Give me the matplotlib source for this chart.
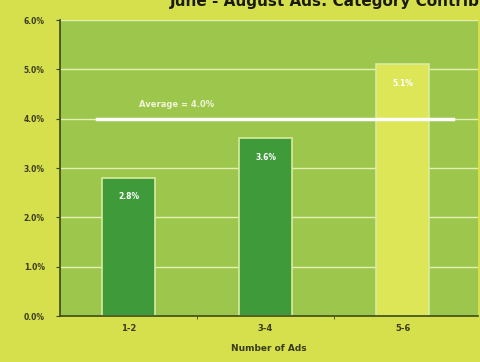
import matplotlib.pyplot as plt
import numpy as np

categories = ["1-2", "3-4", "5-6"]
values = [2.8, 3.6, 5.1]
bar_labels = ["2.8%", "3.6%", "5.1%"]
average = 4.0
yticks = [0, 1, 2, 3, 4, 5, 6]

bg = "#d6e04c"
face = "#9cc64c"
dark = "#3f9b3a"
light = "#dde657"
txt = "#3b3a1c"

fig = plt.figure(figsize=(4.81, 3.62), dpi=100, facecolor=bg)
ax = fig.add_axes([60/481, 46/362, 418/481, 296/362], facecolor=face)

x = np.arange(len(categories))
colors = [dark, dark, light]
ax.set_axisbelow(True)
ax.yaxis.grid(True, color="#e4f0b0", linewidth=1.0)
ax.bar(x, values, width=0.39, color=colors, edgecolor="#d8eca0", linewidth=1.2, zorder=2)

for xi, v, lab in zip(x, values, bar_labels):
    ax.text(xi, v - 0.38, lab, ha="center", va="center", color="white",
            fontsize=5.5, fontweight="bold", zorder=4)

ax.plot([-0.23, 2.37], [average, average], color="white", linewidth=2.5, zorder=3)
ax.text(0.35, average + 0.28, "Average = 4.0%", ha="center", va="center",
        color="#f2f6d8", fontsize=6, fontweight="bold", zorder=4)

ax.set_xlim(-0.5, 2.55)
ax.set_ylim(0, 6)
ax.set_yticks(yticks)
ax.set_yticklabels([f"{t:.1f}%" for t in yticks], fontsize=5.5, fontweight="bold", color=txt)
ax.set_xticks(x)
ax.set_xticklabels(categories, fontsize=6, fontweight="bold", color=txt)
ax.set_xticks([0.5, 1.5], minor=True)
ax.tick_params(axis="x", which="major", length=0, pad=6)
ax.tick_params(axis="x", which="minor", length=2, color="#3a4a1a")
ax.tick_params(axis="y", length=3, color="#3a4a1a", pad=8)
for side in ["top", "right"]:
    ax.spines[side].set_visible(False)
ax.spines["left"].set_color("#3a4a1a")
ax.spines["bottom"].set_color("#3a4a1a")
ax.spines["left"].set_linewidth(1.2)
ax.spines["bottom"].set_linewidth(1.2)

ax.set_xlabel("Number of Ads", fontsize=6.5, fontweight="bold", color=txt, labelpad=8)
# title sits partly above the top edge, as in the source image
fig.text(170/481, 1 - 6/362, "June - August Ads: Category Contribution",
         fontsize=11, fontweight="bold", color="#1a1a10", ha="left", va="baseline")

fig.savefig("out.png", dpi=100, facecolor=bg)
